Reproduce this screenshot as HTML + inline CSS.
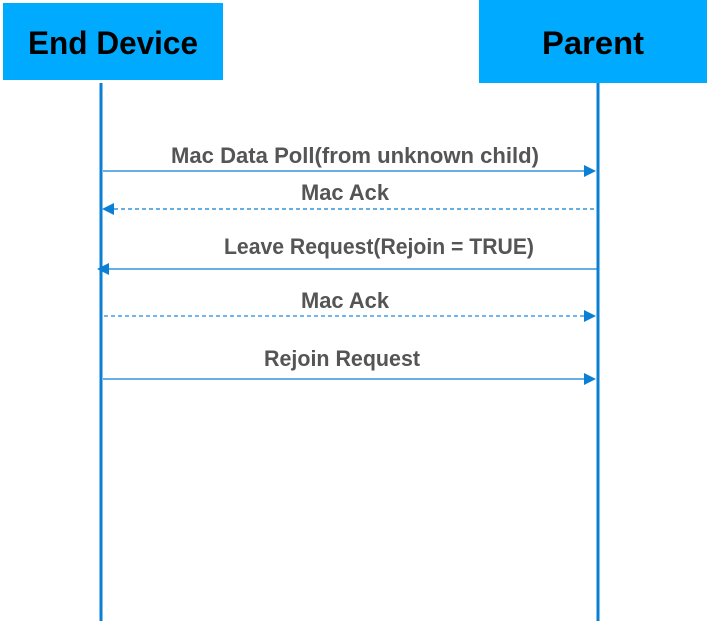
<!DOCTYPE html>
<html><head><meta charset="utf-8"><style>
html,body{margin:0;padding:0;background:#fff;width:707px;height:624px;overflow:hidden}
</style></head><body>
<svg width="707" height="624" xmlns="http://www.w3.org/2000/svg">
<rect x="3" y="3" width="220" height="77" fill="#00aaff"/>
<rect x="479" y="0" width="228" height="83" fill="#00aaff"/>
<text x="113" y="54" text-anchor="middle" font-family="Liberation Sans, sans-serif" font-weight="bold" font-size="32" fill="#000" textLength="170" lengthAdjust="spacingAndGlyphs">End Device</text>
<text x="593" y="54" text-anchor="middle" font-family="Liberation Sans, sans-serif" font-weight="bold" font-size="32" fill="#000" textLength="102" lengthAdjust="spacingAndGlyphs">Parent</text>
<line x1="101" y1="83" x2="101" y2="621" stroke="#0a7fd4" stroke-width="3"/>
<line x1="598" y1="83" x2="598" y2="621" stroke="#0a7fd4" stroke-width="3"/>
<g font-family="Liberation Sans, sans-serif" font-weight="bold" font-size="22" fill="#555" text-anchor="middle">
<text x="355" y="163" textLength="368" lengthAdjust="spacingAndGlyphs">Mac Data Poll(from unknown child)</text>
<text x="345" y="200" textLength="88" lengthAdjust="spacingAndGlyphs">Mac Ack</text>
<text x="379" y="254" textLength="310" lengthAdjust="spacingAndGlyphs">Leave Request(Rejoin = TRUE)</text>
<text x="345" y="308" textLength="88" lengthAdjust="spacingAndGlyphs">Mac Ack</text>
<text x="342" y="366" textLength="156" lengthAdjust="spacingAndGlyphs">Rejoin Request</text>
</g>
<g stroke-width="1.3">
<line x1="103" y1="171" x2="586" y2="171" stroke="#0a7fd4"/>
<polygon points="596,171 584,165 584,177" fill="#0a7fd4"/>
<line x1="114" y1="209" x2="596" y2="209" stroke="#0a7fd4" stroke-dasharray="4,3"/>
<polygon points="102,209 114,203 114,215" fill="#0a7fd4"/>
<line x1="108" y1="269" x2="597" y2="269" stroke="#0a7fd4"/>
<polygon points="97,269 109,263 109,275" fill="#0a7fd4"/>
<line x1="104" y1="316" x2="585" y2="316" stroke="#1a8ae8" stroke-dasharray="4,3"/>
<polygon points="596,316 584,310 584,322" fill="#0a7fd4"/>
<line x1="103" y1="379" x2="585" y2="379" stroke="#0a7fd4"/>
<polygon points="596,379 584,373 584,385" fill="#0a7fd4"/>
</g>
</svg>
</body></html>
